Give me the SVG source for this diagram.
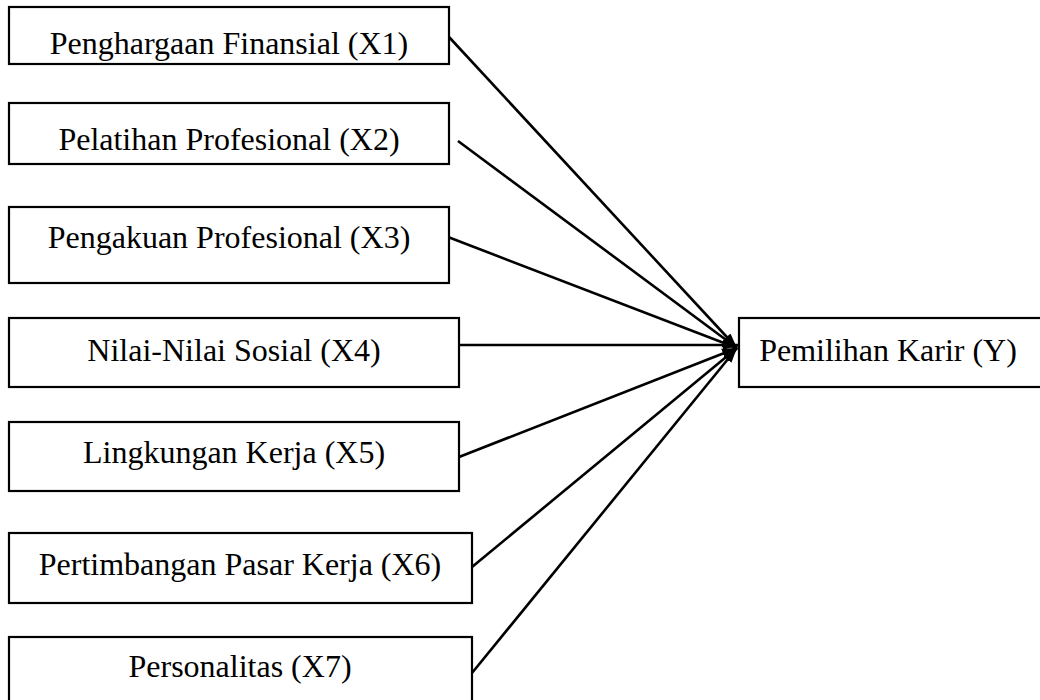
<svg xmlns="http://www.w3.org/2000/svg" width="1040" height="700" viewBox="0 0 1040 700">
<style>
.box{fill:#fff;stroke:#000;stroke-width:2.2}
.lbl{font-family:"Liberation Serif","Times New Roman",serif;font-size:32px;fill:#000;text-anchor:middle}
.conn{stroke:#000;stroke-width:2.6;fill:none;marker-end:url(#ah)}
</style>
<defs>
<marker id="ah" markerUnits="userSpaceOnUse" markerWidth="16" markerHeight="12" refX="15" refY="6" orient="auto">
<path d="M0,1 L15,6 L0,11 Z" fill="#000"/>
</marker>
</defs>
<rect width="1040" height="700" fill="#fff"/>
<g id="connectors">
<line class="conn" x1="449" y1="37" x2="737" y2="348"/>
<line class="conn" x1="458" y1="141" x2="737" y2="348"/>
<line class="conn" x1="448" y1="237" x2="737" y2="348"/>
<line class="conn" x1="459" y1="345" x2="738" y2="345"/>
<line class="conn" x1="459" y1="457" x2="737" y2="348"/>
<line class="conn" x1="472" y1="567" x2="737" y2="348"/>
<line class="conn" x1="472" y1="673" x2="737" y2="348"/>
</g>
<g id="x1"><rect class="box" x="9" y="7" width="440" height="57"/><text class="lbl" x="229" y="54">Penghargaan Finansial (X1)</text></g>
<g id="x2"><rect class="box" x="9" y="103" width="440" height="61"/><text class="lbl" x="229" y="150">Pelatihan Profesional (X2)</text></g>
<g id="x3"><rect class="box" x="9" y="207" width="440" height="76"/><text class="lbl" x="229" y="248">Pengakuan Profesional (X3)</text></g>
<g id="x4"><rect class="box" x="9" y="318" width="450" height="69"/><text class="lbl" x="234" y="361">Nilai-Nilai Sosial (X4)</text></g>
<g id="x5"><rect class="box" x="9" y="422" width="450" height="69"/><text class="lbl" x="234" y="463">Lingkungan Kerja (X5)</text></g>
<g id="x6"><rect class="box" x="9" y="533" width="463" height="70"/><text class="lbl" x="240" y="575">Pertimbangan Pasar Kerja (X6)</text></g>
<g id="x7"><rect class="box" x="9" y="637" width="463" height="70"/><text class="lbl" x="240" y="677">Personalitas (X7)</text></g>
<g id="y"><rect class="box" x="739" y="318" width="310" height="69"/><text class="lbl" x="888" y="361">Pemilihan Karir (Y)</text></g>
</svg>
